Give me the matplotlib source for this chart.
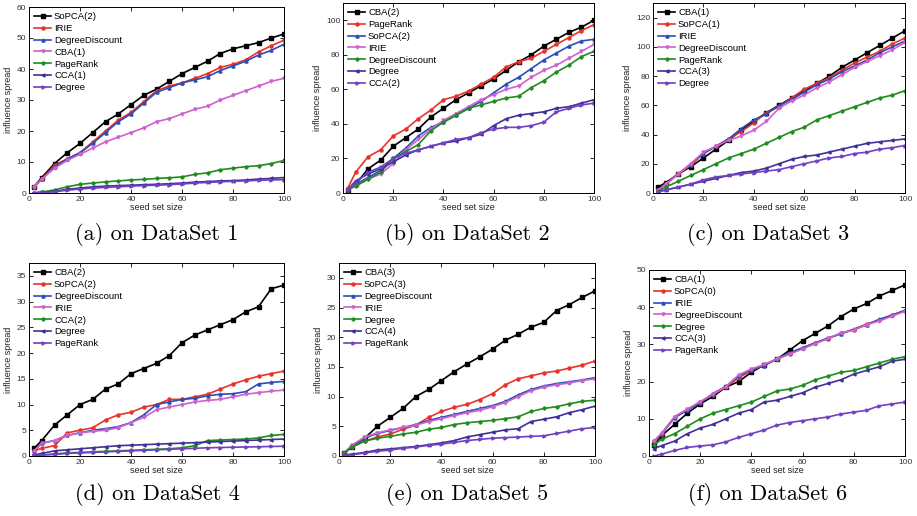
import matplotlib
matplotlib.use("Agg")
import matplotlib.pyplot as plt

plt.rcParams['font.family'] = ['Liberation Sans', 'DejaVu Sans']

seeds = [2, 5, 10, 15, 20, 25, 30, 35, 40, 45, 50, 55, 60, 65, 70, 75, 80, 85, 90, 95, 100]

# ---- DataSet 1
names1 = ["SoPCA(2)", "IRIE", "DegreeDiscount", "CBA(1)", "PageRank", "CCA(1)", "Degree"]
d1_sopca2 = [2, 5, 9.5, 13, 16, 19.5, 23, 25.5, 28.5, 31.5, 33.5, 36, 38.5, 40.5, 42.5, 45, 46.5, 47.5, 48.5, 50, 51.3]
d1_irie = [2, 4.5, 9, 11, 13, 16.5, 20, 23.5, 26, 29.5, 33, 34.5, 35.5, 37, 38.5, 40.5, 41.5, 43, 45.5, 47.5, 49.3]
d1_dd = [2, 4.5, 8.5, 11, 13, 16, 19.5, 23, 25.5, 29, 32.5, 34, 35.5, 36.5, 37.5, 39.5, 41, 42.5, 44.5, 46, 48]
d1_cba1 = [2, 4.5, 8, 10.5, 12.5, 14.5, 16.5, 18, 19.5, 21, 23, 24, 25.5, 27, 28, 30, 31.5, 33, 34.5, 36, 37]
d1_pagerank = [0, 0.3, 1, 2, 2.8, 3.2, 3.6, 3.9, 4.2, 4.4, 4.7, 4.9, 5.2, 6, 6.5, 7.5, 8, 8.5, 8.8, 9.5, 10.5]
d1_cca1 = [0, 0.3, 0.5, 1.2, 1.6, 2, 2.2, 2.4, 2.5, 2.7, 2.8, 3, 3.2, 3.5, 3.7, 3.9, 4, 4.2, 4.5, 4.7, 5]
d1_degree = [0, 0.2, 0.4, 0.9, 1.3, 1.6, 1.8, 2, 2.2, 2.4, 2.5, 2.7, 2.9, 3.2, 3.4, 3.6, 3.8, 3.9, 4.1, 4.2, 4.3]

# ---- DataSet 2
names2 = ["CBA(2)", "PageRank", "SoPCA(2)", "IRIE", "DegreeDiscount", "Degree", "CCA(2)"]
d2_cba2 = [2, 5, 14, 19, 27, 32, 37, 44, 49, 54, 58, 62, 66, 71, 76, 80, 85, 89, 93, 96, 100]
d2_pagerank = [3, 12, 21, 25, 33, 37, 43, 48, 54, 56, 59, 63, 67, 73, 76, 78, 82, 86, 90, 94, 97.5]
d2_sopca2 = [2, 5, 9, 13, 20, 26, 33, 38, 41, 45, 49, 53, 58, 63, 67, 72, 77, 81, 85, 88, 89]
d2_irie = [2, 4, 8, 11, 17, 25, 31, 37, 42, 46, 50, 54, 57, 60, 62, 67, 71, 74, 78, 82, 86]
d2_dd = [2, 4, 8, 12, 20, 24, 28, 36, 41, 45, 49, 51, 53, 55, 56, 61, 65, 70, 74, 79, 82]
d2_degree = [2, 7, 11, 14, 18, 22, 25, 27, 29, 30, 32, 34, 39, 43, 45, 46, 47, 49, 50, 52, 54]
d2_cca2 = [2, 6, 12, 15, 20, 23, 25, 27, 29, 31, 32, 35, 37, 38, 38, 39, 41, 47, 49, 51, 52]

# ---- DataSet 3
names3 = ["CBA(1)", "SoPCA(1)", "IRIE", "DegreeDiscount", "PageRank", "CCA(3)", "Degree"]
d3_cba1 = [4, 7, 13, 18, 24, 30, 36, 43, 49, 55, 60, 65, 70, 75, 80, 86, 91, 96, 101, 106, 111]
d3_sopca1 = [2, 6, 13, 19, 27, 32, 37, 42, 48, 55, 59, 65, 71, 75, 79, 84, 89, 93, 97, 102, 106]
d3_irie = [2, 6, 13, 20, 27, 32, 37, 44, 50, 54, 60, 64, 69, 74, 78, 83, 87, 91, 96, 100, 104]
d3_dd = [2, 6, 13, 20, 28, 32, 36, 39, 43, 49, 58, 63, 67, 72, 76, 81, 86, 90, 94, 98, 103]
d3_pagerank = [1, 4, 8, 12, 16, 20, 24, 27, 30, 34, 38, 42, 45, 50, 53, 56, 59, 62, 65, 67, 70]
d3_cca3 = [1, 2, 4, 6, 8, 10, 12, 14, 15, 17, 20, 23, 25, 26, 28, 30, 32, 34, 35, 36, 37]
d3_degree = [1, 2, 4, 6, 9, 11, 12, 13, 14, 15, 16, 18, 20, 22, 24, 25, 27, 28, 30, 31, 32.5]

# ---- DataSet 4
names4 = ["CBA(2)", "SoPCA(2)", "DegreeDiscount", "IRIE", "CCA(2)", "Degree", "PageRank"]
d4_cba2 = [1.5, 3, 6, 8, 10, 11, 13, 14, 16, 17, 18, 19.5, 22, 23.5, 24.5, 25.5, 26.5, 28, 29, 32.5, 33.2]
d4_sopca2 = [1, 1.5, 2, 4.5, 5, 5.5, 7, 8, 8.5, 9.5, 10, 11, 11, 11.5, 12, 13, 14, 14.8, 15.5, 16, 16.5]
d4_dd = [1, 2.5, 3, 4, 4.5, 5, 5.3, 5.7, 6.5, 8, 10, 10.5, 11, 11.2, 11.7, 12, 12.1, 12.5, 14, 14.3, 14.5]
d4_irie = [1, 2.5, 3, 4, 4.5, 4.8, 5, 5.5, 6.5, 7.5, 9, 9.5, 10, 10.5, 10.8, 11, 11.5, 12, 12.3, 12.6, 12.8]
d4_cca2 = [0.1, 0.2, 0.4, 0.6, 0.7, 0.8, 0.9, 1, 1.1, 1.2, 1.3, 1.4, 1.6, 2, 3, 3.1, 3.2, 3.3, 3.5, 4, 4.2]
d4_degree = [0.2, 0.5, 1, 1.2, 1.4, 1.6, 1.8, 2, 2.1, 2.2, 2.3, 2.4, 2.5, 2.6, 2.7, 2.8, 2.9, 3, 3.1, 3.2, 3.3]
d4_pagerank = [0.1, 0.2, 0.3, 0.5, 0.6, 0.7, 0.8, 0.9, 1, 1.1, 1.2, 1.3, 1.4, 1.5, 1.6, 1.65, 1.7, 1.75, 1.8, 1.85, 1.9]

# ---- DataSet 5
names5 = ["CBA(3)", "SoPCA(3)", "DegreeDiscount", "IRIE", "Degree", "CCA(4)", "PageRank"]
d5_cba3 = [0.5, 1.5, 3, 5, 6.5, 8, 10, 11.2, 12.7, 14.2, 15.5, 16.7, 18, 19.5, 20.5, 21.7, 22.5, 24.5, 25.5, 26.7, 27.8]
d5_sopca3 = [0.5, 1.5, 2.5, 3.2, 3.7, 4.5, 5.2, 6.5, 7.5, 8.2, 8.7, 9.5, 10.5, 12, 13, 13.5, 14, 14.3, 14.8, 15.3, 16]
d5_dd = [0.5, 1.7, 3, 3.8, 4.3, 4.8, 5.3, 6, 6.5, 7, 7.5, 8, 8.5, 9.2, 10.3, 11.2, 11.8, 12.2, 12.5, 12.8, 13.2]
d5_irie = [0.5, 1.8, 3.2, 3.9, 4.4, 4.8, 5.2, 5.8, 6.3, 6.8, 7.3, 7.7, 8.3, 9, 10, 11, 11.6, 12, 12.3, 12.7, 13]
d5_degree = [0.5, 1.5, 2.5, 3, 3.3, 3.7, 4, 4.5, 4.8, 5.3, 5.6, 5.8, 6, 6.3, 6.6, 7.5, 8, 8.3, 8.8, 9.2, 9.4]
d5_cca4 = [0.2, 0.3, 0.6, 1, 1.2, 1.4, 1.6, 1.9, 2.2, 2.6, 3.2, 3.6, 4, 4.4, 4.6, 5.8, 6.2, 6.6, 7.3, 7.8, 8.4]
d5_pagerank = [0.1, 0.2, 0.5, 0.8, 1, 1.3, 1.5, 1.8, 2, 2.3, 2.6, 2.8, 3, 3.1, 3.2, 3.3, 3.4, 3.8, 4.2, 4.6, 4.8]

# ---- DataSet 6
names6 = ["CBA(1)", "SoPCA(0)", "IRIE", "DegreeDiscount", "Degree", "CCA(3)", "PageRank"]
d6_cba1 = [3, 5.5, 8.5, 11.5, 14, 16, 18.5, 20, 22.5, 24.5, 26, 28.5, 31, 33, 35, 37.5, 39.5, 41, 43, 44.5, 46]
d6_sopca0 = [4, 6, 10.5, 12.5, 14.5, 16.5, 18.5, 21, 23, 24.5, 26, 27.5, 29, 30.5, 31.5, 33, 34, 35.5, 36.5, 38, 39]
d6_irie = [4, 6, 10.3, 12.3, 14.3, 16.8, 18.7, 21.5, 23.2, 24.3, 26.2, 27.8, 29.1, 30.4, 31.8, 32.8, 34.1, 35.2, 36.8, 37.8, 39.2]
d6_dd = [4, 6.2, 10.6, 12.6, 14.6, 16.7, 18.6, 21.8, 23.4, 24.6, 26.1, 27.4, 28.8, 30.2, 31.6, 33.1, 33.8, 35.3, 36.3, 37.6, 38.9]
d6_degree = [3, 4.5, 6, 8, 10, 11.5, 12.5, 13.5, 14.5, 16, 17.5, 18, 19, 20.5, 21.5, 22.5, 23, 24, 25, 26, 26.7]
d6_cca3 = [2, 2.8, 4, 6, 7.5, 8.5, 10, 11.5, 12.5, 14.5, 15, 16, 17, 18.5, 19.5, 20.5, 22, 23, 24, 25.5, 26]
d6_pagerank = [0, 0.5, 1.5, 2.3, 2.7, 3, 3.8, 5, 6, 7, 8.3, 9, 9.5, 10, 10.5, 11.3, 11.8, 12.3, 13.5, 14, 14.5]

panels = [
    (names1, [d1_sopca2, d1_irie, d1_dd, d1_cba1, d1_pagerank, d1_cca1, d1_degree], 60, range(0, 61, 10), "(a) on DataSet 1"),
    (names2, [d2_cba2, d2_pagerank, d2_sopca2, d2_irie, d2_dd, d2_degree, d2_cca2], 110, range(0, 101, 20), "(b) on DataSet 2"),
    (names3, [d3_cba1, d3_sopca1, d3_irie, d3_dd, d3_pagerank, d3_cca3, d3_degree], 130, range(0, 121, 20), "(c) on DataSet 3"),
    (names4, [d4_cba2, d4_sopca2, d4_dd, d4_irie, d4_cca2, d4_degree, d4_pagerank], 37.5, range(0, 36, 5), "(d) on DataSet 4"),
    (names5, [d5_cba3, d5_sopca3, d5_dd, d5_irie, d5_degree, d5_cca4, d5_pagerank], 32.5, range(0, 31, 5), "(e) on DataSet 5"),
    (names6, [d6_cba1, d6_sopca0, d6_irie, d6_dd, d6_degree, d6_cca3, d6_pagerank], 50, range(0, 51, 10), "(f) on DataSet 6"),
]

colors = ["#000000", "#e8322a", "#2b4db5", "#d060d0", "#1e8c1e", "#40309a", "#7040c0"]
markers = ["s", "o", "^", "v", "P", "<", ">"]

# axes boxes in pixels: left, right, top, bottom
boxes = [(29, 284, 7, 193), (343, 594, 3, 193), (653, 905, 3, 193),
         (29, 284, 263, 456), (339, 595, 263, 456), (649, 905, 270, 456)]
caption_pos = [(157, 235), (467, 235), (768, 235), (157, 494), (467, 494), (768, 494)]

W, H = 917, 516
fig = plt.figure(figsize=(W / 100, H / 100), dpi=100)

for i, (names, series, ytop, yt, cap) in enumerate(panels):
    l, r, t, b = boxes[i]
    ax = fig.add_axes([l / W, (H - b) / H, (r - l) / W, (b - t) / H])
    for j, vals in enumerate(series):
        ax.plot(seeds, vals, color=colors[j], marker=markers[j], markersize=2.2,
                linewidth=1.2, label=names[j])
    ax.set_xlim(0, 100)
    ax.set_ylim(0, ytop)
    ax.set_xticks(range(0, 101, 20))
    ax.set_yticks(list(yt))
    ax.tick_params(direction="in", length=3, width=0.6, labelsize=6, top=True, right=True, pad=2,
                   labelcolor="#333333")
    for s in ax.spines.values():
        s.set_linewidth(0.7)
    ax.set_xlabel("seed set size", fontsize=6.5, labelpad=0, color="#222222")
    ax.set_ylabel("influence spread", fontsize=6.5, labelpad=3, color="#222222")
    ax.legend(loc="upper left", frameon=False, fontsize=6.8, handlelength=1.8,
              handletextpad=0.3, labelspacing=0.3, borderaxespad=0.35, borderpad=0.2)
    cx, cy = caption_pos[i]
    fig.text(cx / W, 1 - cy / H, cap, ha="center", va="center", fontsize=16, family="cmr10")

plt.savefig("out.png", dpi=100)
